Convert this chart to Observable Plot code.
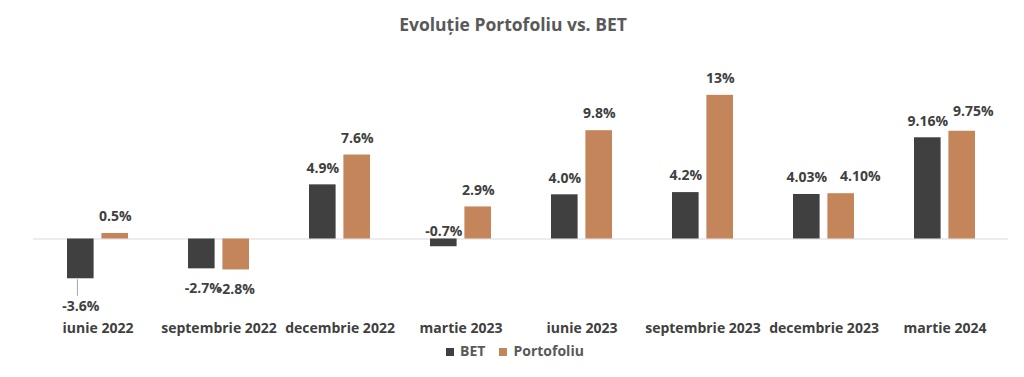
<!DOCTYPE html>
<html>
<head>
<meta charset="utf-8">
<script src="https://cdn.jsdelivr.net/npm/d3@7"></script>
<script src="https://cdn.jsdelivr.net/npm/@observablehq/plot@0.6"></script>
<style>
  html, body { margin: 0; padding: 0; background: #ffffff; }
  body { width: 1024px; font-family: "Open Sans", sans-serif; }
  #title { height: 48px; line-height: 48px; text-align: center; font-size: 17.5px; font-weight: 700; color: #595959; padding-left: 2px; }
  #legend { height: 26px; line-height: 26px; text-align: center; font-size: 14px; font-weight: 700; color: #595959; padding-left: 6px; }
  #legend .sw { display: inline-block; width: 8px; height: 8px; margin-right: 6px; vertical-align: 0px; }
  #legend .item { margin: 0 7px; }
</style>
</head>
<body>
<div id="title">Evoluție Portofoliu vs. BET</div>
<div id="chart"></div>
<div id="legend"></div>
<script>
// ---- data ----
const categories = ["iunie 2022", "septembrie 2022", "decembrie 2022", "martie 2023", "iunie 2023", "septembrie 2023", "decembrie 2023", "martie 2024"];
const seriesNames = ["BET", "Portofoliu"];
const betValues = [-3.6, -2.7, 4.9, -0.7, 4.0, 4.2, 4.03, 9.16];
const portValues = [0.5, -2.8, 7.6, 2.9, 9.8, 13, 4.10, 9.75];
const betLabels = ["-3.6%", "-2.7%", "4.9%", "-0.7%", "4.0%", "4.2%", "4.03%", "9.16%"];
const portLabels = ["0.5%", "-2.8%", "7.6%", "2.9%", "9.8%", "13%", "4.10%", "9.75%"];
const colors = ["#404040", "#C4855A"];

// ---- table ----
const rows = [];
categories.forEach((c, i) => {
  rows.push({category: c, series: seriesNames[0], value: betValues[i], label: betLabels[i]});
  rows.push({category: c, series: seriesNames[1], value: portValues[i], label: portLabels[i]});
});

// ---- layout ----
const W = 1024, H = 290;
const zeroPx = 190.5;         // zero line inside svg
const k = 11.05;              // px per percentage point
const yDomain = [-6, 14];
const yRange = [zeroPx - yDomain[0] * k, zeroPx - yDomain[1] * k];
const u = px => px / k;       // pixels -> data units
const keyOf = d => d.category + "|" + d.series;

// manual label nudges (as placed in the original chart)
const leaderKey = categories[0] + "|" + seriesNames[0];
const nudgeX = {};
nudgeX[categories[1] + "|" + seriesNames[0]] = 1.5;
nudgeX[categories[6] + "|" + seriesNames[1]] = 19;
nudgeX[categories[7] + "|" + seriesNames[1]] = 11;
const nudgeY = {};
nudgeY[categories[7] + "|" + seriesNames[1]] = 2.6;

function labelY(d) {
  const key = keyOf(d);
  if (key === leaderKey) return d.value - u(28);
  if (d.value >= 0) return d.value + u(16.7 + (nudgeY[key] || 0));
  if (d.value > -1) return u(7.5);
  return d.value - u(20);
}

const bet = rows.filter(d => d.series === seriesNames[0]);
const port = rows.filter(d => d.series === seriesNames[1]);

const labelMarks = [...port, ...bet].map(d => Plot.text([d], {
  x: "category", y: labelY, text: "label",
  dx: (d.series === seriesNames[0] ? -17.3 : 17.3) + (nudgeX[keyOf(d)] || 0),
  fill: "#404040", fontSize: 14, fontWeight: 700
}));

const chart = Plot.plot({
  width: W,
  height: H,
  marginLeft: 33,
  marginRight: 16,
  marginTop: 0,
  marginBottom: 18,
  style: {fontFamily: "Open Sans", fontSize: "14px", fontWeight: "700", color: "#404040", background: "white", overflow: "visible"},
  x: {domain: categories, padding: 0, label: null},
  y: {domain: yDomain, range: yRange, axis: null},
  marks: [
    Plot.ruleY([0], {stroke: "#d9d9d9", strokeWidth: 1.2}),
    Plot.barY(bet, {x: "category", y: "value", fill: colors[0], insetLeft: 30, insetRight: 64.4}),
    Plot.barY(port, {x: "category", y: "value", fill: colors[1], insetLeft: 64.4, insetRight: 30}),
    Plot.ruleX(bet.filter(d => keyOf(d) === leaderKey), {
      x: "category", y1: d => d.value - u(1), y2: d => d.value - u(17.5), dx: -20.6, stroke: "#a6a6a6", strokeWidth: 1
    }),
    ...labelMarks,
    Plot.axisX({tickSize: 0, tickPadding: 3, fontSize: 14, fontWeight: 700, label: null})
  ]
});
document.getElementById("chart").appendChild(chart);

// ---- legend ----
const legend = document.getElementById("legend");
seriesNames.forEach((s, i) => {
  const item = document.createElement("span");
  item.className = "item";
  const sw = document.createElement("span");
  sw.className = "sw";
  sw.style.background = colors[i];
  item.appendChild(sw);
  item.appendChild(document.createTextNode(s));
  legend.appendChild(item);
});
</script>
</body>
</html>
